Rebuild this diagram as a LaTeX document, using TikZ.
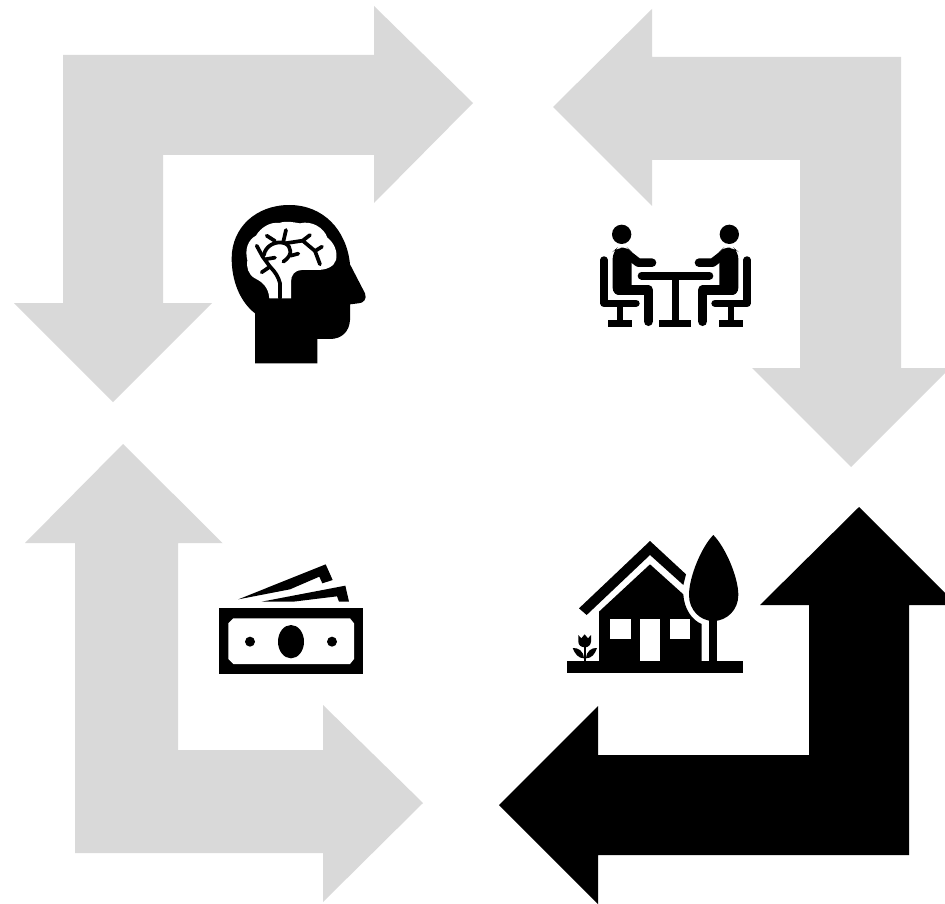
\documentclass[tikz,border=0pt]{standalone}
\definecolor{arrowgray}{HTML}{D9D9D9}
\tikzset{
  graybar/.style={fill=arrowgray,draw=none},
  blackbar/.style={fill=black,draw=none},
  icon/.style={fill=black,draw=none},
  hole/.style={fill=white,draw=none},
  vein/.style={draw=black,line width=3.7pt,line cap=round,line join=round},
  limb/.style={draw=black,line cap=round,line join=round},
}
\newcommand{\seated}{%
  \fill[black] (95,58) circle (29);
  \fill[black,rounded corners=7pt] (68,240) -- (68,110) -- (82,98) -- (112,98) -- (125,110) -- (125,240) -- cycle;
  \draw[limb,line width=8.6pt] (105,112) -- (145,143) -- (186,143);
  \draw[limb,line width=9.4pt] (85,225) -- (175,225) -- (175,319);
  \draw[limb,line width=7.4pt] (42,135) -- (42,265) -- (138,265);
  \fill[black] (81,265) rectangle (99,320);
  \fill[black] (55,315) rectangle (125,337);
}
\begin{document}
\begin{tikzpicture}[x=1pt,y=-1pt]
\useasboundingbox (0,0) rectangle (945,904);
\fill[white] (0,0) rectangle (945,904);
% arrows
\path[graybar] (63,55) -- (374,55) -- (374,6) -- (473,103) -- (374,203) -- (374,155) -- (163,155) -- (163,303) -- (212,303) -- (113,402) -- (14,303) -- (63,303) -- cycle;
\path[graybar] (901,57) -- (652,57) -- (652,9) -- (553,107) -- (652,206) -- (652,160) -- (800,160) -- (800,368) -- (752,368) -- (851,467) -- (945,373) -- (945,368) -- (901,368) -- cycle;
\path[graybar] (75,853) -- (323,853) -- (323,902) -- (423,803) -- (323,705) -- (323,750) -- (178,750) -- (178,543) -- (222.5,543) -- (123,444) -- (25,543) -- (75,543) -- cycle;
\path[blackbar] (909,855) -- (598,855) -- (598,904) -- (499,805) -- (598,706) -- (598,755) -- (809,755) -- (809,605) -- (760,605) -- (859,507) -- (945,593) -- (945,605) -- (909,605) -- cycle;
% head
\begin{scope}[shift={(220,195)},scale=1/3]
\path[icon] (105,505) -- (105,355) .. controls (60,320) and (35,258) .. (35,190)
  .. controls (35,98) and (108,30) .. (208,30)
  .. controls (310,30) and (380,105) .. (390,208)
  -- (435,295) .. controls (442,312) and (430,325) .. (415,325)
  -- (390,328) -- (390,375) .. controls (388,410) and (365,432) .. (330,432)
  -- (292,432) -- (292,505) -- cycle;
\path[hole] (148,310) .. controls (146,280) and (130,262) .. (105,250)
  .. controls (85,240) and (78,215) .. (82,195)
  .. controls (74,165) and (83,135) .. (108,122)
  .. controls (122,98) and (150,80) .. (178,84)
  .. controls (200,76) and (225,83) .. (240,85)
  .. controls (275,76) and (312,98) .. (322,128)
  .. controls (342,143) and (354,170) .. (348,195)
  .. controls (342,215) and (320,225) .. (290,225)
  -- (245,225) .. controls (225,225) and (213,240) .. (213,260)
  -- (213,310) -- cycle;
\draw[vein] (180,310) -- (180,265) .. controls (175,245) and (165,230) .. (150,215) -- (125,232);
\draw[vein] (110,152) -- (128,185) -- (150,215);
\draw[vein] (140,192) -- (165,188);
\draw[vein] (132,180) .. controls (135,155) and (165,135) .. (195,145) .. controls (215,155) and (220,180) .. (190,200);
\draw[vein] (140,122) -- (165,138);
\draw[vein] (198,105) -- (190,140);
\draw[vein] (195,145) -- (248,137) -- (270,120);
\draw[vein] (248,137) -- (285,168) -- (306,155);
\draw[vein] (285,168) -- (300,208);
\draw[vein] (212,182) -- (235,176);
\end{scope}
% meeting
\begin{scope}[shift={(590,215)},scale=1/3]
\seated
\begin{scope}[shift={(513,0)},xscale=-1]
\seated
\end{scope}
\draw[limb,line width=8pt] (155,182) -- (358,182);
\fill[black] (246,182) rectangle (268,320);
\fill[black] (208,315) rectangle (303,337);
\end{scope}
% money
\begin{scope}[shift={(210,555)},scale=1/3]
\path[icon] (27,160) rectangle (460,357);
\path[hole] (70,190) -- (420,190) -- (432,205) -- (432,312) -- (420,327) -- (70,327) -- (55,312) -- (55,205) -- cycle;
\fill[black] (243,260) ellipse [x radius=39,y radius=50];
\fill[black] (120,260) circle (15);
\fill[black] (366,260) circle (15);
\path[icon] (85,133) -- (347,28) -- (368,75) -- (337,85) -- (328,65) -- (240,103) -- cycle;
\path[icon] (155,140) -- (406,92) -- (417,140) -- (387,140) -- (381,124) -- (250,140) -- cycle;
\end{scope}
% house
\begin{scope}[shift={(560,530)},scale=1/3]
\path[icon] (57,235) -- (270,33) -- (378,133) -- (370,165) -- (270,75) -- (80,255) -- cycle;
\path[icon] (117,394) -- (117,245) -- (270,103) -- (370,193) .. controls (372,235) and (395,270) .. (425,282) -- (425,394) -- cycle;
\path[hole] (150,268) rectangle (212,328);
\path[hole] (330,268) rectangle (390,328);
\path[hole] (240,268) rectangle (300,394);
\path[icon] (20,394) rectangle (550,428);
\path[icon] (460,15) .. controls (495,50) and (535,140) .. (535,195) .. controls (535,240) and (500,273) .. (460,273) .. controls (420,273) and (387,240) .. (387,195) .. controls (387,140) and (425,50) .. (460,15) -- cycle;
\path[icon] (448,270) rectangle (472,394);
% flower
\path[icon] (71,350) rectangle (79,394);
\path[icon] (55,315) -- (64,325) -- (74,313) -- (84,325) -- (93,315) -- (93,335) .. controls (92,345) and (85,352) .. (75,352) .. controls (63,352) and (55,345) .. (55,335) -- cycle;
\path[icon] (38,354) .. controls (55,353) and (70,362) .. (72,385) .. controls (55,385) and (45,372) .. (38,354) -- cycle;
\path[icon] (111,354) .. controls (95,353) and (80,362) .. (78,385) .. controls (95,385) and (105,372) .. (111,354) -- cycle;
\end{scope}
\end{tikzpicture}
\end{document}
